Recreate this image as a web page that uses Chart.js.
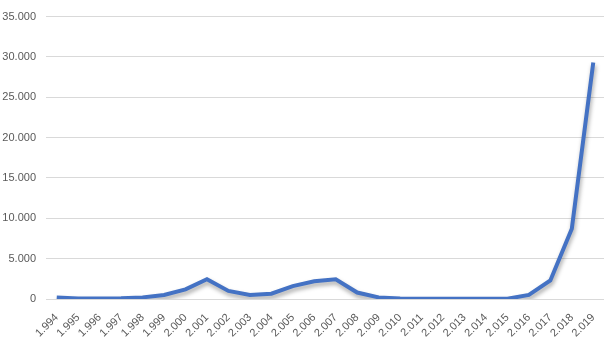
<!DOCTYPE html>
<html>
<head>
<meta charset="utf-8">
<script src="https://cdn.jsdelivr.net/npm/chart.js@4"></script>
<style>
  html, body { margin: 0; padding: 0; background: #fff; }
  #wrap { width: 611px; height: 348px; }
</style>
</head>
<body>
<div id="wrap"><canvas id="chart" width="611" height="348"></canvas></div>
<script>
const years = ['1.994','1.995','1.996','1.997','1.998','1.999','2.000','2.001','2.002','2.003','2.004','2.005','2.006',
               '2.007','2.008','2.009','2.010','2.011','2.012','2.013','2.014','2.015','2.016','2.017','2.018','2.019'];
const values = [200, 60, 50, 80, 200, 500, 1200, 2450, 1000, 500, 650, 1600, 2200,
                2450, 800, 200, 60, 20, 30, 30, 30, 40, 500, 2300, 8700, 29300];
const yTicks = [0, 5000, 10000, 15000, 20000, 25000, 30000, 35000];

const shadow = {
    id: 'shadow',
    beforeDatasetsDraw(chart) {
        const c = chart.ctx;
        c.save();
        c.shadowColor = 'rgba(0,0,0,0.35)';
        c.shadowBlur = 4;
        c.shadowOffsetX = 1;
        c.shadowOffsetY = 3;
    },
    afterDatasetsDraw(chart) {
        chart.ctx.restore();
    }
};

const ctx = document.getElementById('chart').getContext('2d');
new Chart(ctx, {
    type: 'line',
    data: {
        labels: years,
        datasets: [{
            data: values,
            borderColor: '#4472C4',
            borderWidth: 4,
            pointRadius: 0,
            tension: 0,
            fill: false
        }]
    },
    options: {
        responsive: false,
        animation: false,
        layout: { padding: { top: 8, right: 7, left: 0, bottom: 0 } },
        plugins: { legend: { display: false }, tooltip: { enabled: false } },
        scales: {
            x: {
                offset: true,
                afterFit: s => { s.height = 49; },
                grid: { display: false },
                border: { display: false },
                ticks: {
                    minRotation: 45,
                    maxRotation: 45,
                    autoSkip: false,
                    color: '#595959',
                    font: { family: 'Liberation Sans', size: 11 },
                    padding: 4
                }
            },
            y: {
                min: 0,
                max: 35000,
                afterFit: s => { s.width = 46; },
                afterBuildTicks: s => { s.ticks = yTicks.map(v => ({ value: v })); },
                grid: { color: '#d9d9d9', lineWidth: 1, drawTicks: false },
                border: { display: false },
                ticks: {
                    color: '#595959',
                    padding: 10,
                    font: { family: 'Liberation Sans', size: 11 },
                    callback: v => v === 0 ? '0' : v.toLocaleString('de-DE')
                }
            }
        }
    },
    plugins: [shadow]
});
</script>
</body>
</html>
